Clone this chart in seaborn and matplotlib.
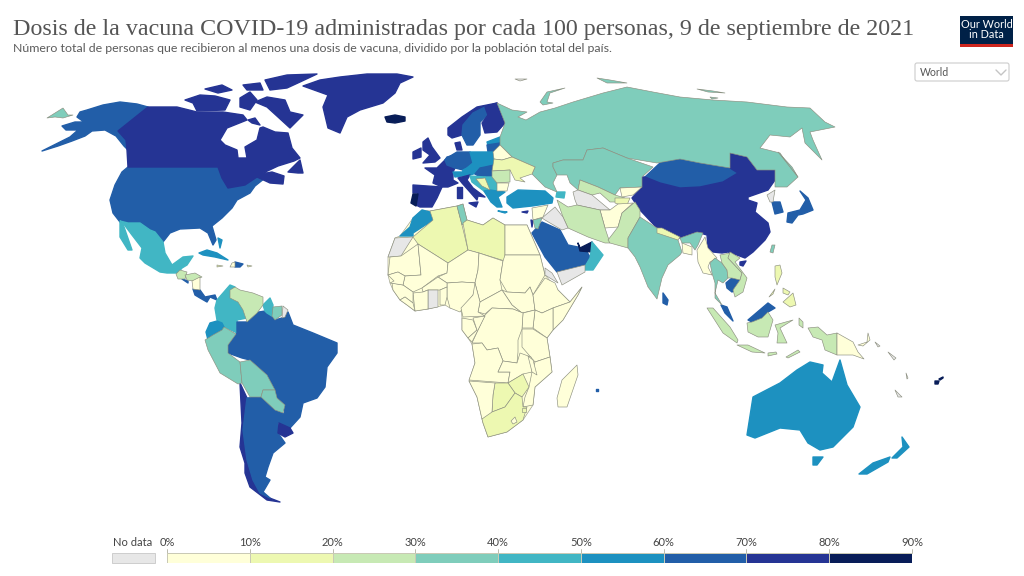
import numpy as np
import matplotlib
matplotlib.use("Agg")
import matplotlib.pyplot as plt
from matplotlib.colors import ListedColormap
from matplotlib.patches import FancyBboxPatch, Rectangle
import seaborn as sns

TITLE = "Dosis de la vacuna COVID-19 administradas por cada 100 personas, 9 de septiembre de 2021"
SUBTITLE = "Número total de personas que recibieron al menos una dosis de vacuna, dividido por la población total del país."
NO_DATA_LABEL = "No data"
BIN_EDGES = [0, 10, 20, 30, 40, 50, 60, 70, 80, 90]
BIN_LABELS = ["0%", "10%", "20%", "30%", "40%", "50%", "60%", "70%", "80%", "90%"]
BIN_COLOURS = ["#ffffd9", "#edf8b1", "#c7e9b4", "#7fcdbb", "#41b6c4", "#1d91c0", "#225ea8", "#253494", "#081d58"]
NO_DATA_COLOUR = "#e7e7e7"

# Outlines (map units)
AFRICA_BASE = [(400,236),(413,218),(422,210),(430,211),(457,206),(463,204),(467,220),(483,225),(493,218),(505,225),(527,225),(540,255),(545,275),(558,290),(570,302),(582,287),(578,295),(563,320),(553,330),(547,338),(550,357),(552,372),(535,387),(533,405),(523,420),(507,432),(488,437),(483,423),(482,419),(477,397),(469,381),(475,363),(472,344),(468,338),(462,330),(462,318),(461,308),(450,308),(445,305),(428,309),(415,311),(407,305),(400,300),(393,290),(390,283),(388,275),(388,257),(395,238)]
ALASKA = [(42,151),(58,143),(70,137),(78,130),(66,130),(62,126),(75,122),(84,122),(77,117),(80,112),(87,110),(103,105),(120,102),(137,104),(148,107),(118,131),(126,140),(128,150),(124,146),(116,136),(105,130),(92,131),(85,136),(72,141),(58,146)]
CHUKOTKA = [(47,118),(55,113),(63,108),(68,115),(73,115),(63,118),(55,117)]
CANADA = [(148,107),(160,107),(177,107),(197,112),(223,112),(243,115),(247,120),(227,128),(220,140),(225,145),(237,150),(238,158),(247,158),(245,147),(257,140),(260,128),(263,127),(275,132),(288,133),(292,148),(300,158),(294,161),(278,166),(261,174),(272,172),(284,176),(283,184),(270,183),(257,177),(245,185),(228,188),(222,178),(218,167),(128,167),(127,150),(126,140),(118,131)]
BAFFIN = [(255,102),(267,97),(285,100),(290,112),(303,115),(290,128),(278,117),(267,107)]
VICTORIA = [(185,100),(200,95),(215,96),(230,100),(225,110),(197,111),(193,103)]
BANKS = [(205,89),(222,85),(232,90),(218,93)]
MELVILLE = [(243,85),(260,83),(263,90),(247,90)]
ELLESMERE = [(265,80),(287,75),(317,74),(300,82),(287,88),(270,90)]
DEVON = [(240,98),(250,92),(257,100),(250,110),(240,107)]
SOUTHAMPTON = [(248,120),(255,118),(260,125),(252,123)]
NEWFOUNDLAND = [(288,172),(300,160),(303,173),(298,173)]
GREENLAND = [(340,77),(367,74),(397,74),(413,77),(400,83),(395,93),(383,103),(360,110),(347,117),(340,133),(328,128),(323,107),(328,95),(303,86),(320,80)]
ICELAND = [(385,117),(395,115),(405,117),(405,121),(395,123),(387,122)]
USA = [(128,167),(218,167),(222,178),(228,188),(245,185),(257,177),(262,172),(265,178),(255,186),(250,193),(237,200),(232,208),(222,218),(212,226),(216,240),(213,245),(208,233),(200,228),(180,229),(170,233),(163,242),(150,230),(140,223),(128,224),(120,222),(113,213),(110,200),(115,185),(122,172)]
MEXICO = [(120,221),(128,223),(140,223),(150,230),(155,232),(163,242),(165,253),(172,265),(183,257),(193,256),(187,265),(182,268),(178,273),(167,273),(160,272),(145,263),(140,258),(142,248),(132,235),(123,223)]
BAJA = [(120,222),(123,224),(132,250),(128,250),(120,237)]
GUATEMALA = [(176,274),(180,270),(187,272),(185,279),(178,279)]
HONDURAS = [(185,275),(195,273),(202,277),(193,281),(187,280)]
NICARAGUA = [(192,281),(200,277),(200,290),(193,289)]
EL_SALVADOR = [(182,279),(188,281),(188,283)]
PANAMA = [(193,289),(200,290),(205,297),(215,295),(217,300),(210,297),(207,302),(200,298),(195,295)]
CUBA = [(199,253),(207,250),(217,253),(228,260),(215,257),(203,255)]
DOMINICAN = [(235,262),(243,264),(240,267),(235,267)]
HAITI = [(232,263),(235,262),(235,267),(230,267)]
JAMAICA = [(217,265),(223,266),(217,267)]
PUERTO_RICO = [(247,265),(252,266),(248,267)]
BAHAMAS = [(218,238),(222,240),(220,248)]
VENEZUELA = [(230,290),(235,287),(240,290),(253,293),(263,297),(263,305),(257,313),(247,322),(243,310),(238,302),(230,298)]
COLOMBIA = [(217,300),(230,285),(235,287),(230,298),(238,302),(243,310),(247,318),(237,320),(237,333),(225,327),(217,320),(215,308)]
ECUADOR = [(210,323),(217,321),(222,323),(224,327),(222,330),(213,335),(208,340),(206,332)]
PERU = [(205,340),(213,335),(222,330),(224,327),(236,334),(228,345),(228,353),(240,362),(242,383),(238,384),(220,373),(208,350)]
BRAZIL = [(237,322),(247,322),(253,313),(265,311),(275,320),(282,318),(288,312),(293,325),(313,333),(337,343),(337,353),(327,367),(325,387),(317,398),(303,403),(300,417),(290,428),(278,422),(285,412),(275,393),(267,375),(250,360),(242,358),(228,353),(227,347),(237,333)]
GUYANA = [(263,305),(270,298),(273,305),(272,316),(267,313),(265,311)]
SURINAME = [(273,307),(282,306),(282,315),(275,320),(272,316)]
FRENCH_GUIANA = [(283,306),(288,310),(285,317),(282,318)]
BOLIVIA = [(240,362),(250,360),(267,375),(275,390),(263,390),(261,397),(250,397),(242,383)]
PARAGUAY = [(263,390),(275,390),(277,398),(285,405),(283,413),(275,410),(261,397)]
CHILE = [(240,383),(247,398),(243,430),(247,460),(253,480),(267,497),(280,502),(267,500),(250,487),(245,473),(245,463),(240,447),(242,423)]
ARGENTINA = [(247,398),(261,397),(275,410),(283,413),(278,423),(278,433),(285,443),(273,453),(268,467),(265,477),(270,480),(263,492),(270,498),(260,493),(253,480),(247,460),(243,430)]
URUGUAY = [(279,423),(290,428),(293,433),(285,437),(278,433)]

MOROCCO = [(400,236),(410,227),(413,218),(422,210),(430,212),(433,220),(413,233),(413,236)]
W_SAHARA = [(388,257),(395,238),(413,237),(401,256),(390,257)]
ALGERIA = [(413,237),(433,220),(430,211),(457,206),(462,225),(468,250),(448,263),(418,244)]
TUNISIA = [(457,206),(463,204),(467,220),(462,225)]
LIBYA = [(463,223),(467,220),(483,225),(493,218),(505,225),(505,261),(479,253),(468,250)]
EGYPT = [(505,225),(527,225),(540,255),(505,255)]
MAURITANIA = [(390,257),(401,256),(418,244),(421,275),(405,276),(398,272),(388,275)]
MALI = [(418,244),(448,263),(447,273),(438,276),(422,288),(413,292),(403,285),(405,276),(421,275)]
NIGER = [(448,263),(468,250),(479,253),(478,270),(475,283),(462,282),(447,283),(438,277),(447,273)]
NIGERIA = [(447,283),(462,282),(477,283),(473,295),(460,312),(450,308),(447,297)]
CHAD = [(479,253),(503,261),(500,280),(502,290),(480,302),(475,283),(478,270)]
SUDAN = [(505,255),(540,255),(545,275),(533,295),(530,287),(525,293),(507,292),(500,280),(503,261)]
S_SUDAN = [(502,290),(507,292),(525,293),(530,287),(533,295),(535,310),(522,313),(512,305)]
ETHIOPIA = [(533,295),(545,278),(555,283),(558,290),(570,302),(553,308),(542,313),(535,310)]
SOMALIA = [(553,308),(570,302),(582,287),(578,295),(563,320),(553,330),(553,315)]
ERITREA = [(545,268),(552,273),(558,283),(545,275)]
KENYA = [(535,310),(542,313),(553,308),(553,330),(547,338),(533,328)]
UGANDA = [(523,313),(535,310),(533,328),(522,328)]
TANZANIA = [(522,329),(533,329),(547,338),(550,357),(535,362),(522,347)]
MOZAMBIQUE = [(550,357),(552,372),(535,387),(533,405),(523,407),(525,397),(529,387),(532,372),(535,362)]
MADAGASCAR = [(577,365),(578,375),(567,407),(558,407),(557,398),(562,380)]
MAURITIUS = [(596,389),(598,389),(598,391),(596,391)]
CAR = [(480,302),(502,290),(512,305),(522,313),(513,309),(492,308),(485,314),(478,312)]
DRC = [(485,315),(492,308),(513,309),(523,313),(522,329),(518,340),(518,352),(517,363),(503,361),(498,348),(487,350),(482,343),(472,343),(478,330)]
CAMEROON = [(475,283),(480,302),(478,312),(485,316),(463,317),(461,308),(473,295)]
GABON = [(462,318),(473,320),(477,330),(468,338),(462,330)]
CONGO = [(473,318),(485,316),(478,330),(472,342),(468,338),(477,330)]
BURKINA = [(422,288),(438,277),(447,283),(447,287),(440,290),(428,290),(423,292)]
GHANA = [(428,290),(438,290),(438,307),(428,309)]
BENIN = [(440,290),(447,287),(447,297),(445,305),(440,305)]
IVORY_COAST = [(413,293),(423,292),(428,290),(428,309),(415,311)]
GUINEA = [(392,283),(403,285),(413,292),(413,303),(405,297),(400,300),(393,290)]
SENEGAL = [(388,275),(398,272),(405,276),(403,285),(390,283),(394,281)]
LIBERIA = [(400,300),(405,297),(413,303),(415,311),(407,305)]
ANGOLA = [(472,344),(482,343),(487,350),(498,348),(503,361),(498,372),(510,372),(508,383),(469,380),(475,363)]
ZAMBIA = [(503,361),(517,363),(520,353),(531,357),(532,372),(523,374),(508,383),(510,372),(498,372)]
MALAWI = [(528,356),(533,360),(537,375),(532,372)]
ZIMBABWE = [(508,383),(523,374),(529,387),(522,397),(515,393)]
BOTSWANA = [(495,383),(508,383),(515,393),(505,407),(492,412),(493,395)]
NAMIBIA = [(469,381),(495,383),(493,395),(492,412),(492,418),(482,419),(477,397)]
SOUTH_AFRICA = [(482,419),(492,412),(505,407),(515,393),(522,397),(523,407),(527,407),(523,420),(507,432),(488,437),(483,423)]
LESOTHO = [(511,421),(515,417),(517,422),(513,424)]
ESWATINI = [(522,408),(526,408),(526,412),(522,412)]

RUSSIA = [(497,103),(512,110),(527,112),(518,117),(526,120),(540,112),(555,108),(573,102),(603,93),(627,87),(653,92),(680,97),(713,100),(747,102),(787,107),(810,108),(825,122),(835,127),(810,132),(813,140),(822,160),(805,143),(802,128),(790,137),(770,135),(760,148),(780,153),(787,163),(798,177),(787,187),(775,187),(775,170),(757,170),(747,157),(730,153),(730,168),(700,163),(680,159),(657,163),(627,158),(603,148),(587,150),(583,160),(563,160),(553,163),(553,167),(557,175),(553,183),(557,192),(545,187),(532,174),(535,167),(512,157),(500,145),(500,137),(505,123)]
NOVAYA = [(540,102),(547,92),(565,88),(550,93),(547,102),(553,103),(543,105)]
SEVERNAYA = [(597,78),(610,80),(627,83),(607,83)]
NEW_SIBERIA = [(697,89),(713,91),(725,93),(708,92)]
LYAKHOV = [(710,97),(718,98),(712,99)]
SVALBARD = [(515,79),(527,79),(520,81)]
SAKHALIN = [(778,152),(787,163),(798,177),(792,167)]
SPAIN = [(413,185),(442,187),(437,198),(432,207),(420,207),(416,205),(418,193),(413,193)]
PORTUGAL = [(413,194),(418,194),(416,206),(411,203)]
FRANCE = [(425,168),(437,168),(445,160),(455,168),(453,172),(453,180),(458,183),(448,187),(442,187),(433,183),(435,175)]
UK = [(423,142),(428,138),(432,147),(440,158),(435,162),(423,163),(430,155),(423,150)]
IRELAND = [(413,152),(421,148),(421,157),(413,159)]
NORWAY = [(448,128),(462,117),(477,107),(497,103),(485,107),(473,113),(463,125),(462,135),(452,138),(448,135)]
SWEDEN = [(463,125),(473,113),(485,107),(488,115),(480,122),(480,135),(473,145),(467,145),(462,135)]
FINLAND = [(485,107),(497,103),(505,123),(497,132),(485,133),(482,123),(488,115)]
DENMARK = [(455,143),(460,142),(462,150),(457,150)]
ESTONIA = [(487,142),(500,137),(500,143),(488,145)]
LATVIA = [(487,145),(500,143),(500,145),(493,152),(488,152)]
GERMANY = [(447,158),(457,152),(470,152),(473,163),(463,170),(455,168),(445,160)]
POLAND = [(470,152),(493,152),(494,165),(485,167),(473,163)]
BENELUX = [(445,160),(447,157),(455,155),(455,168),(447,165)]
CZECHIA = [(473,163),(485,167),(480,170),(467,168)]
AUSTRIA = [(463,170),(467,168),(480,170),(480,172),(470,175),(462,176)]
HUNGARY = [(480,168),(485,167),(494,165),(492,171),(492,177),(480,177),(475,174)]
SWITZERLAND = [(453,172),(462,172),(462,176),(455,177)]
ITALY = [(458,178),(470,175),(467,180),(473,188),(485,197),(478,196),(477,200),(470,192),(462,183)]
SARDINIA = [(457,187),(462,187),(462,198),(457,198)]
SICILY = [(469,203),(478,202),(476,207)]
BELARUS = [(493,152),(500,145),(512,157),(502,160),(494,159)]
UKRAINE = [(494,159),(502,160),(512,157),(535,167),(532,174),(520,178),(525,182),(515,180),(510,170),(492,171)]
ROMANIA = [(492,171),(510,170),(510,182),(497,183),(492,177)]
BULGARIA = [(497,183),(509,183),(507,191),(497,191)]
SERBIA = [(485,177),(492,177),(497,183),(497,191),(490,190)]
CROATIA = [(470,176),(485,177),(480,181),(490,190),(484,191),(472,182)]
BOSNIA = [(476,179),(485,178),(490,190),(482,186)]
GREECE = [(484,191),(490,190),(497,191),(505,192),(498,197),(502,207),(497,207),(491,202)]
CRETE = [(498,211),(507,212),(505,213)]
CYPRUS = [(522,212),(528,211),(527,213)]
TURKEY = [(507,197),(518,190),(545,191),(553,198),(552,203),(532,206),(513,208),(507,203)]
GEORGIA = [(557,192),(565,192),(564,198),(556,197)]
KAZAKHSTAN = [(553,163),(563,160),(583,160),(587,150),(603,148),(627,158),(653,167),(642,177),(642,187),(620,188),(615,195),(598,187),(580,180),(578,190),(570,183),(567,175),(557,175),(553,167)]
MONGOLIA = [(645,177),(660,163),(680,159),(700,163),(730,168),(738,173),(723,182),(700,187),(680,188),(660,183)]
CHINA = [(645,177),(660,183),(680,188),(700,187),(723,182),(738,173),(730,168),(730,153),(747,157),(757,170),(775,170),(775,180),(768,190),(748,197),(748,200),(757,203),(755,212),(768,223),(770,232),(765,240),(753,252),(745,258),(737,255),(728,252),(722,253),(713,252),(708,247),(707,235),(697,232),(680,238),(657,228),(640,210),(632,198),(642,187),(642,177)]
HAINAN = [(740,262),(746,261),(743,266),(740,265)]
UZBEKISTAN = [(580,180),(598,187),(615,195),(625,198),(618,202),(610,202),(600,193),(592,195),(578,190)]
TURKMENISTAN = [(573,192),(578,190),(592,195),(610,210),(600,210),(577,205),(575,200)]
KYRGYZSTAN = [(620,188),(642,187),(633,195),(622,197)]
TAJIKISTAN = [(615,198),(630,198),(627,205),(618,204),(615,203)]
AFGHANISTAN = [(600,210),(610,210),(618,204),(633,203),(622,213),(618,227),(605,228)]
IRAN = [(557,200),(568,207),(577,205),(600,210),(605,228),(610,243),(605,243),(588,237),(568,228),(563,217)]
IRAQ = [(542,218),(555,207),(563,217),(568,228),(562,230),(545,220)]
SYRIA = [(532,208),(548,205),(543,217),(533,220)]
JORDAN = [(533,220),(542,218),(538,229),(535,228)]
ISRAEL = [(531,220),(533,221),(532,227)]
SAUDI = [(532,233),(542,222),(560,230),(568,245),(578,247),(587,252),(590,257),(585,265),(557,272),(545,257)]
UAE = [(578,243),(580,248),(592,242),(592,252),(580,251)]
OMAN = [(592,242),(603,255),(593,270),(583,270),(590,258),(591,252)]
YEMEN = [(557,272),(585,265),(585,272),(562,285)]
PAKISTAN = [(608,240),(618,227),(622,213),(635,202),(640,210),(640,217),(628,238),(628,248),(610,243)]
INDIA = [(640,217),(657,228),(678,240),(682,252),(680,255),(668,265),(662,278),(657,299),(648,287),(640,267),(635,257),(628,248),(628,238)]
NE_INDIA = [(680,238),(697,232),(703,233),(698,245),(695,250),(690,243),(682,243)]
NEPAL = [(657,228),(662,228),(680,237),(678,240),(657,233)]
BANGLADESH = [(682,243),(692,247),(692,255),(683,253)]
MYANMAR = [(697,250),(705,237),(708,248),(717,258),(710,262),(708,267),(712,275),(703,273),(698,262)]
THAILAND = [(710,263),(715,258),(722,263),(727,270),(728,278),(723,283),(718,280),(715,293),(722,305),(715,298),(715,283),(712,273)]
LAOS = [(720,255),(730,253),(728,258),(742,273),(740,280),(732,278),(728,278),(727,270),(722,263)]
VIETNAM = [(730,252),(740,258),(735,262),(747,278),(743,292),(735,297),(733,290),(740,280),(742,273),(728,258)]
CAMBODIA = [(726,283),(732,278),(740,280),(738,288),(732,292),(727,288)]
MALAYA = [(721,305),(727,307),(733,321),(725,313)]
SARAWAK = [(748,320),(768,303),(775,308),(768,312),(762,318),(752,322)]
BORNEO = [(747,323),(752,322),(762,318),(768,312),(773,320),(768,337),(758,337),(748,332)]
SUMATRA = [(707,308),(713,308),(730,327),(738,340),(737,343),(723,333)]
JAVA = [(737,345),(748,345),(765,353),(752,352)]
SUNDA = [(768,353),(776,352),(777,354),(768,356)]
TIMOR = [(786,357),(798,350),(800,352),(788,358)]
SULAWESI = [(775,325),(793,320),(780,328),(787,343),(777,343),(778,333)]
HALMAHERA = [(799,318),(803,322),(803,328),(799,325)]
PAPUA = [(808,328),(818,327),(827,335),(837,333),(837,355),(825,350),(822,340),(813,337)]
PNG = [(837,333),(853,342),(858,352),(864,359),(853,355),(837,355)]
NEW_BRITAIN = [(858,345),(867,342),(868,333),(870,340),(863,346)]
LUZON = [(775,266),(780,265),(782,273),(777,285),(775,277)]
VISAYAS = [(783,288),(790,292),(788,295),(783,293)]
MINDANAO = [(783,302),(793,293),(796,305),(790,307)]
PALAWAN = [(769,297),(775,289),(773,294)]
TAIWAN = [(772,245),(775,245),(773,253),(770,252)]
SRI_LANKA = [(663,293),(668,300),(667,305),(663,303)]
JAPAN = [(800,191),(808,198),(813,210),(803,214),(798,215),(792,223),(787,222),(788,213),(800,210),(806,200)]
S_KOREA = [(772,202),(780,202),(783,212),(775,214)]
N_KOREA = [(767,195),(775,190),(773,202),(770,202)]
AUSTRALIA = [(747,435),(753,397),(780,383),(797,370),(810,362),(823,365),(822,373),(832,382),(840,360),(847,385),(860,407),(853,427),(833,447),(820,450),(808,443),(800,430),(780,428),(755,438)]
TASMANIA = [(813,457),(823,457),(817,465),(813,465)]
NZ_NORTH = [(902,437),(909,447),(897,458),(892,458),(903,447)]
NZ_SOUTH = [(890,457),(888,462),(867,474),(859,474),(873,463)]
FIJI = [(935,381),(939,381),(938,384),(935,384)]
FIJI_NORTH = [(939,379),(943,377),(943,378),(940,380)]
NEW_CALEDONIA = [(895,390),(902,397),(898,397)]
SOLOMON_WEST = [(875,342),(880,346),(878,347)]
SOLOMON_EAST = [(888,352),(896,358),(894,360)]
VANUATU = [(906,373),(908,378),(907,379)]

OUTLINES = [
    ALASKA, USA, CANADA, BAFFIN, VICTORIA, BANKS, MELVILLE, ELLESMERE, DEVON, SOUTHAMPTON, NEWFOUNDLAND, GREENLAND, ICELAND,
    MEXICO, BAJA, GUATEMALA, HONDURAS, NICARAGUA, EL_SALVADOR, PANAMA, CUBA, DOMINICAN, HAITI, JAMAICA, PUERTO_RICO, BAHAMAS,
    VENEZUELA, COLOMBIA, ECUADOR, PERU, BRAZIL, GUYANA, SURINAME, FRENCH_GUIANA, BOLIVIA, PARAGUAY, CHILE, ARGENTINA, URUGUAY,
    MOROCCO, W_SAHARA, ALGERIA, TUNISIA, LIBYA, EGYPT, MAURITANIA, MALI, NIGER, NIGERIA, CHAD, SUDAN, S_SUDAN, ETHIOPIA, SOMALIA, ERITREA,
    KENYA, UGANDA, TANZANIA, MOZAMBIQUE, MADAGASCAR, MAURITIUS, CAR, DRC, CAMEROON, GABON, CONGO, BURKINA, GHANA, BENIN, IVORY_COAST,
    GUINEA, SENEGAL, LIBERIA, ANGOLA, ZAMBIA, MALAWI, ZIMBABWE, BOTSWANA, NAMIBIA, SOUTH_AFRICA, LESOTHO, ESWATINI,
    RUSSIA, CHUKOTKA, NOVAYA, SEVERNAYA, NEW_SIBERIA, LYAKHOV, SVALBARD, SAKHALIN, SPAIN, PORTUGAL, FRANCE, UK, IRELAND, NORWAY, SWEDEN, FINLAND, DENMARK,
    ESTONIA, LATVIA, GERMANY, POLAND, BENELUX, CZECHIA, AUSTRIA, HUNGARY, SWITZERLAND, ITALY, SARDINIA, SICILY, BELARUS, UKRAINE, ROMANIA,
    BULGARIA, SERBIA, CROATIA, BOSNIA, GREECE, CRETE, CYPRUS, TURKEY, GEORGIA, KAZAKHSTAN, MONGOLIA, CHINA, HAINAN, UZBEKISTAN, TURKMENISTAN,
    KYRGYZSTAN, TAJIKISTAN, AFGHANISTAN, IRAN, IRAQ, SYRIA, JORDAN, ISRAEL, SAUDI, UAE, OMAN, YEMEN, PAKISTAN, INDIA, NE_INDIA, NEPAL,
    BANGLADESH, MYANMAR, THAILAND, LAOS, VIETNAM, CAMBODIA, MALAYA, SARAWAK, BORNEO, SUMATRA, JAVA, SUNDA, TIMOR, SULAWESI, HALMAHERA, PAPUA, PNG, NEW_BRITAIN,
    LUZON, VISAYAS, MINDANAO, PALAWAN, TAIWAN, SRI_LANKA, JAPAN, S_KOREA, N_KOREA, AUSTRALIA, TASMANIA, NZ_NORTH, NZ_SOUTH, FIJI, FIJI_NORTH, NEW_CALEDONIA,
    SOLOMON_WEST, SOLOMON_EAST, VANUATU,
]
# Share of people with at least one dose, %, one value per outline (None = no data)
SHARES = [
    62, 62, 76, 76, 76, 76, 76, 76, 76, 76, 76, 72, 82,
    45, 45, 22, 22, 6, 62, 62, 55, 62, 1, 15, 15, 55,
    22, 45, 55, 32, 65, 45, 35, None, 32, 32, 75, 65, 75,
    55, None, 15, 35, 12, 8, 8, 3, 3, 3, 1, 3, 1, 3, 1, None,
    3, 3, 1, 5, 2, 65, 1, 1, 2, 3, 3, 3, None, 3, 6,
    4, 6, 4, 3, 2, 3, 15, 15, 8, 14, 3, 14,
    33, 33, 33, 33, 33, 33, None, 33, 78, 85, 75, 72, 75, 70, 68, 73, 76,
    55, 62, 65, 52, 65, 52, 58, 62, 55, 72, 72, 72, 8, 12, 22,
    8, 45, 42, 12, 55, 55, 70, 52, 42, 33, 65, 78, 78, 22, None,
    5, 12, 2, 22, None, 6, 35, 72, 65, 85, 45, None, 22, 33, 33, 12,
    8, 6, 35, 25, 22, 62, 62, 62, 22, 22, 22, 22, 22, 22, 22, 22, 1, 1,
    12, 12, 12, 12, 35, 62, 62, 62, None, 55, 55, 55, 55, 85, 85, None,
    None, None, None,
]
AFRICA_BASE_SHARE = 3

sns.set_theme(style="white")
PALETTE = sns.color_palette(BIN_COLOURS)


def colour_of(share):
    if share is None:
        return NO_DATA_COLOUR
    return PALETTE[int(np.digitize(share, BIN_EDGES)) - 1]


W, H = 1024, 576
fig = plt.figure(figsize=(W / 100, H / 100), dpi=100, facecolor="white")
ax = fig.add_axes([0, 0, 1, 1])
ax.set_xlim(0, W)
ax.set_ylim(H, 0)
ax.axis("off")

xs, ys = zip(*AFRICA_BASE)
ax.fill(xs, ys, facecolor=colour_of(AFRICA_BASE_SHARE), edgecolor="#a4a694", linewidth=0.5)

pairs = list(zip(OUTLINES, SHARES, strict=True))
# Dark countries keep same-colour edges, which also closes slivers between neighbours
for outline, share in pairs:
    if share is not None and share >= 40:
        xs, ys = zip(*outline)
        ax.fill(xs, ys, facecolor=colour_of(share), edgecolor=colour_of(share), linewidth=1.0, joinstyle="round")
# Light countries show thin grey borders
for outline, share in pairs:
    if share is None or share < 40:
        xs, ys = zip(*outline)
        ax.fill(xs, ys, facecolor=colour_of(share), edgecolor="#8c8f80", linewidth=0.45, joinstyle="round")

ax.text(13, 29, TITLE, family="Liberation Serif", fontsize=17.3, color="#555555", va="center", ha="left")
ax.text(13, 48, SUBTITLE, family="Lato", fontsize=8.95, color="#5b5b5b", va="center", ha="left")

# Logo
ax.add_patch(Rectangle((960, 16), 53, 31, facecolor="#002147", edgecolor="none"))
ax.add_patch(Rectangle((960, 43.5), 53, 3.5, facecolor="#ce261e", edgecolor="none"))
ax.text(986.5, 29.5, "Our World\nin Data", family="Lato", fontsize=7.8, color="white", ha="center", va="center", linespacing=0.95)

# Dropdown
ax.add_patch(FancyBboxPatch((915, 63), 94, 18, boxstyle="round,pad=0,rounding_size=2", facecolor="white", edgecolor="#cccccc", linewidth=0.8))
ax.text(920, 72, "World", family="Lato", fontsize=7.6, color="#555555", va="center", ha="left")
ax.plot([996, 1001, 1006], [70, 75, 70], color="#c4c4c4", linewidth=1)

# Legend
ax_bins = fig.add_axes([167 / W, 1 - 562.5 / H, (912 - 167) / W, 9.5 / H])
sns.heatmap(np.array([BIN_EDGES[:-1]]), cmap=ListedColormap(PALETTE), vmin=0, vmax=90, cbar=False, ax=ax_bins,
            xticklabels=False, yticklabels=False, linewidths=0.4, linecolor="#c9c9b5")
ax.add_patch(Rectangle((112, 553), 43, 9.5, facecolor=NO_DATA_COLOUR, edgecolor="#c8c8c8", linewidth=0.6))
ax.text(133, 543, NO_DATA_LABEL, family="Lato", fontsize=8, color="#444444", ha="center", va="center")
span = (912 - 167) / (BIN_EDGES[-1] - BIN_EDGES[0])
for edge, label in zip(BIN_EDGES, BIN_LABELS):
    x = 167 + edge * span
    ax.plot([x, x], [549, 553], color="#b0b0a0", linewidth=0.6)
    ax.text(x, 543, label, family="Lato", fontsize=8, color="#444444", ha="center", va="center")

fig.savefig("out.png", dpi=100)
